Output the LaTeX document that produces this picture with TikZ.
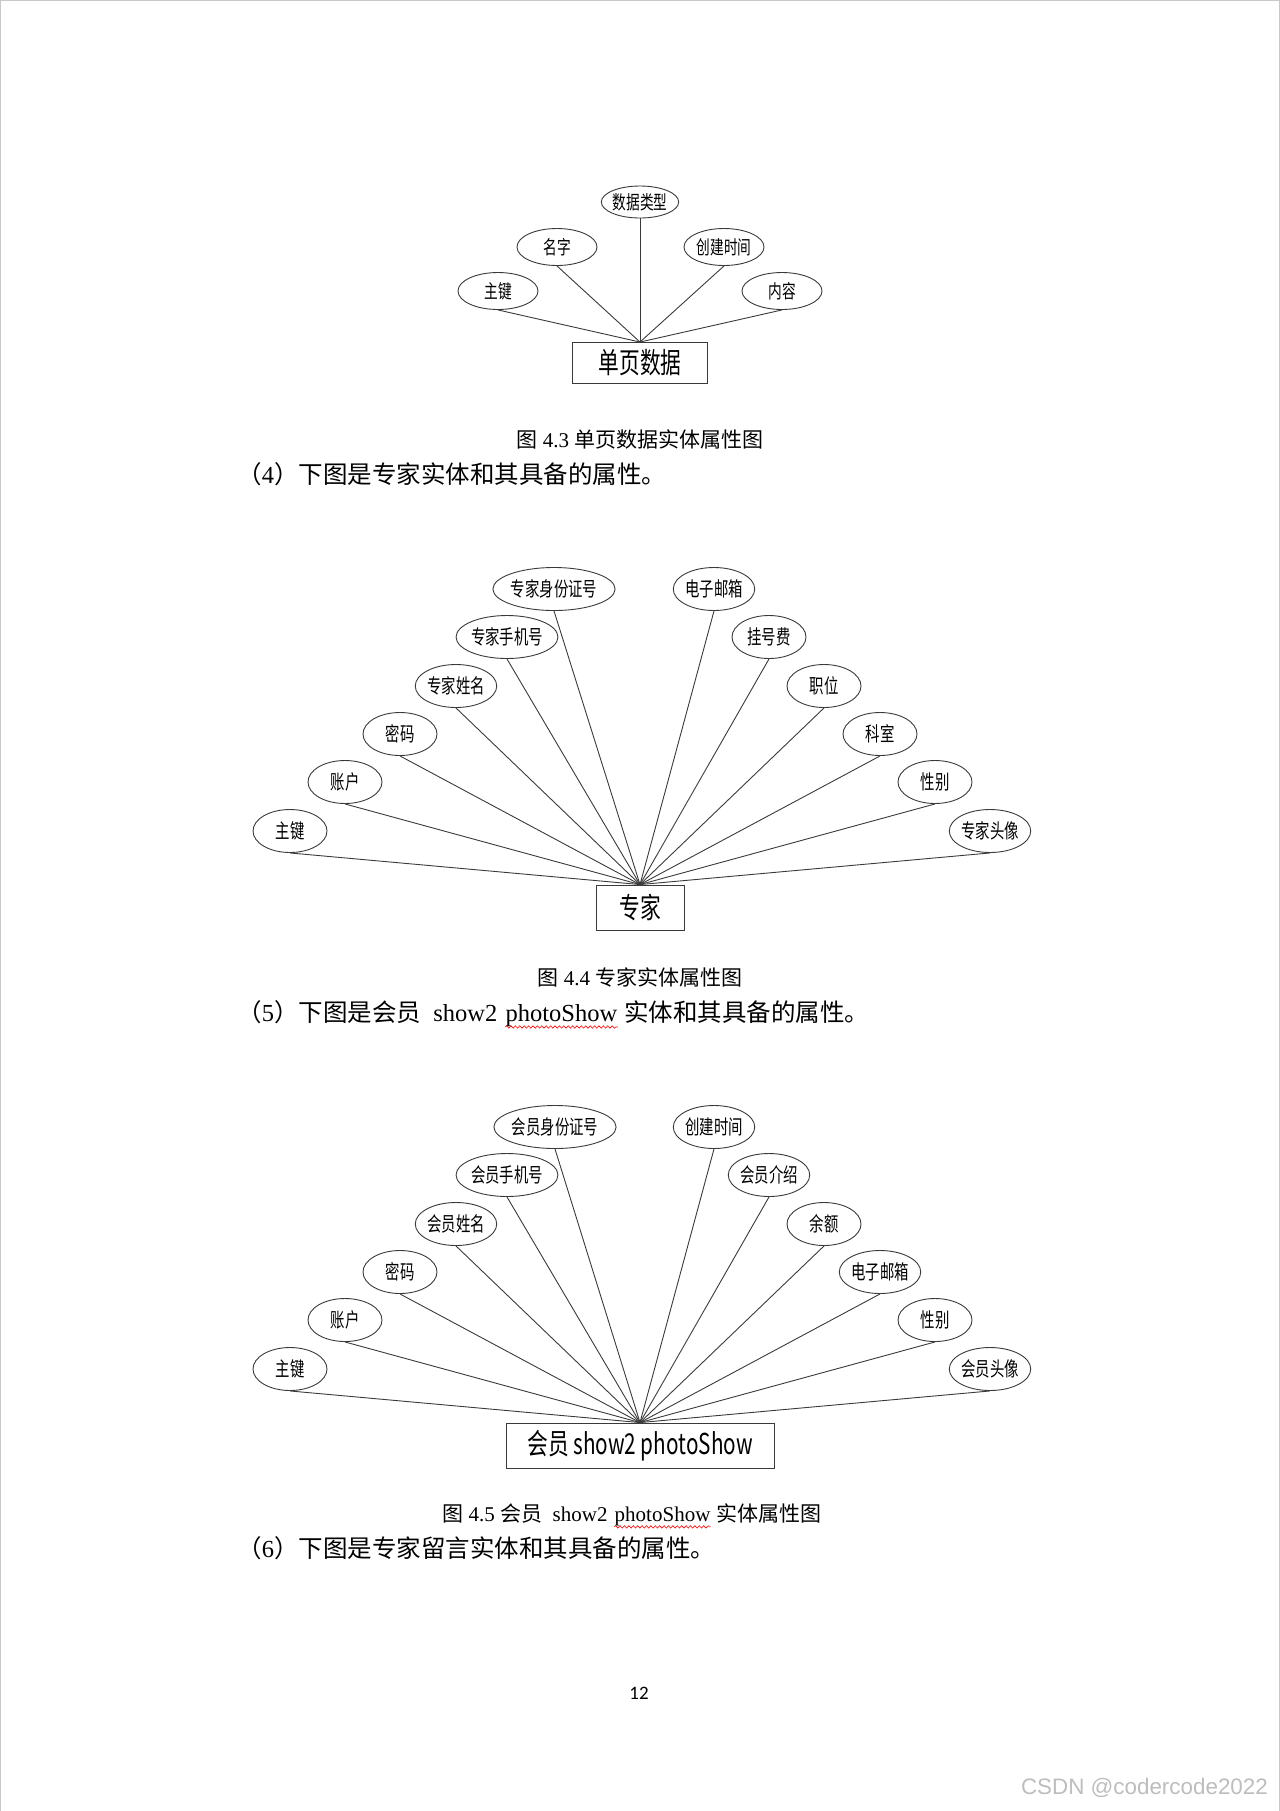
\documentclass[tikz,border=0pt]{standalone}
\usepackage{fontspec}
\setmainfont{Liberation Serif}
\newfontfamily\cjk{Noto Sans CJK SC}
\newfontfamily\dia{Noto Sans CJK SC}[FakeStretch=0.72]
\newfontfamily\pagefont{Carlito}
\newfontfamily\markfont{Liberation Sans}
\usetikzlibrary{shapes.geometric,positioning,decorations.pathmorphing}
\definecolor{edge}{HTML}{3A3A3A}
\definecolor{pageline}{HTML}{C8C8C8}
\definecolor{wmgray}{HTML}{BDBDBD}

\begin{document}
\begin{tikzpicture}[x=0.5pt,y=-0.5pt,line width=0.45pt,
  attr/.style={draw=edge,ellipse,inner sep=0pt,minimum width=37pt,minimum height=21.5pt,
    font=\dia\fontsize{10}{11}\selectfont},
  attrsmall/.style={attr,minimum width=40pt,minimum height=18.5pt,font=\dia\fontsize{9.5}{11}\selectfont},
  ent/.style={draw=edge,rectangle,inner sep=0pt,minimum height=22.5pt,font=\dia\fontsize{14.4}{16}\selectfont},
  link/.style={draw=edge},
  para/.style={anchor=west,inner sep=0pt,font=\fontsize{12.25}{14}\selectfont},
  figcap/.style={inner sep=0pt,font=\fontsize{10.5}{12}\selectfont},
  spell/.style={draw=red,line width=0.3pt,decorate,decoration={snake,amplitude=0.6pt,segment length=2.2pt}}]
\useasboundingbox (0,0) rectangle (1280,1811);
\draw[pageline,line width=0.5pt] (0.5,1811) -- (0.5,0.5) -- (1279.5,0.5) -- (1279.5,1811);

% single page data
\node[ent,minimum width=67.5pt,minimum height=20.5pt] (page) at (640,363) {单页数据};
\node[attrsmall] (pk) at (498,291) {主键};
\node[attrsmall] (name) at (557,247) {名字};
\node[attrsmall,minimum width=38.5pt,minimum height=16pt] (dtype) at (640,202) {数据类型};
\node[attrsmall] (ctime) at (724,247) {创建时间};
\node[attrsmall] (content) at (782,291) {内容};
\foreach \a in {pk,name,dtype,ctime,content}
  \draw[link] (\a.south) -- (page.north);
\node[figcap] (cap1) at (640,439) {{\cjk 图} 4.3 {\cjk 单页数据实体属性图}};
\node[para] (p4) at (237,474) {{\cjk （}4{\cjk ）下图是专家实体和其具备的属性。}};

% expert
\node[ent,minimum width=44pt] (expert) at (640,907.5) {专家};
\node[attr,minimum width=49pt] (eid) at (554,589) {专家身份证号};
\node[attr,minimum width=42pt] (ephone) at (507,637) {专家手机号};
\node[attr] (ename) at (456,686) {专家姓名};
\node[attr] (epwd) at (400,734) {密码};
\node[attr] (eacct) at (345,782) {账户};
\node[attr] (epk) at (290,831) {主键};
\node[attr] (email) at (714,589) {电子邮箱};
\node[attr] (efee) at (769,637) {挂号费};
\node[attr] (epos) at (824,686) {职位};
\node[attr] (edept) at (880,734) {科室};
\node[attr] (esex) at (935,782) {性别};
\node[attr,minimum width=37.5pt] (eavatar) at (990,831) {专家头像};
\foreach \a in {eid,ephone,ename,epwd,eacct,epk,email,efee,epos,edept,esex,eavatar}
  \draw[link] (\a.south) -- (expert.north);
\node[figcap] (cap2) at (640,977) {{\cjk 图} 4.4 {\cjk 专家实体属性图}};
\node[para] (p5) at (237,1012) {{\cjk （}5{\cjk ）下图是会员}\ \ show2\kern0.3em};
\node[para,anchor=base west] (p5show) at (p5.base east) {photoShow};
\node[para,anchor=base west] (p5end) at (p5show.base east) {\ {\cjk 实体和其具备的属性。}};
\draw[spell] (p5show.south west) -- (p5show.south east);

% member show2 photoShow
\node[ent,minimum width=134pt] (member) at (640,1445.5) {会员 show2 photoShow};
\node[attr,minimum width=48pt] (mid) at (555,1127) {会员身份证号};
\node[attr,minimum width=41.5pt] (mphone) at (507,1175) {会员手机号};
\node[attr] (mname) at (456,1224) {会员姓名};
\node[attr] (mpwd) at (400,1272) {密码};
\node[attr] (macct) at (345,1320) {账户};
\node[attr] (mpk) at (290,1369) {主键};
\node[attr] (mtime) at (714,1127) {创建时间};
\node[attr] (mintro) at (769,1175) {会员介绍};
\node[attr] (mbal) at (824,1224) {余额};
\node[attr] (mmail) at (880,1272) {电子邮箱};
\node[attr] (msex) at (935,1320) {性别};
\node[attr] (mavatar) at (990,1369) {会员头像};
\foreach \a in {mid,mphone,mname,mpwd,macct,mpk,mtime,mintro,mbal,mmail,msex,mavatar}
  \draw[link] (\a.south) -- (member.north);
\node[figcap,anchor=west] (cap3) at (442,1514) {{\cjk 图} 4.5 {\cjk 会员}\ \ show2\kern0.3em};
\node[figcap,anchor=base west] (cap3show) at (cap3.base east) {photoShow};
\node[figcap,anchor=base west] (cap3end) at (cap3show.base east) {\ {\cjk 实体属性图}};
\draw[spell] (cap3show.south west) -- (cap3show.south east);
\node[para] (p6) at (237,1548) {{\cjk （}6{\cjk ）下图是专家留言实体和其具备的属性。}};

\node[font=\pagefont\fontsize{9.5}{11}\selectfont] (pgno) at (639,1693) {12};
\node[anchor=east,text=wmgray,font=\markfont\fontsize{11.2}{13}\selectfont] (wm) at (1275,1788) {CSDN @codercode2022};
\end{tikzpicture}
\end{document}
